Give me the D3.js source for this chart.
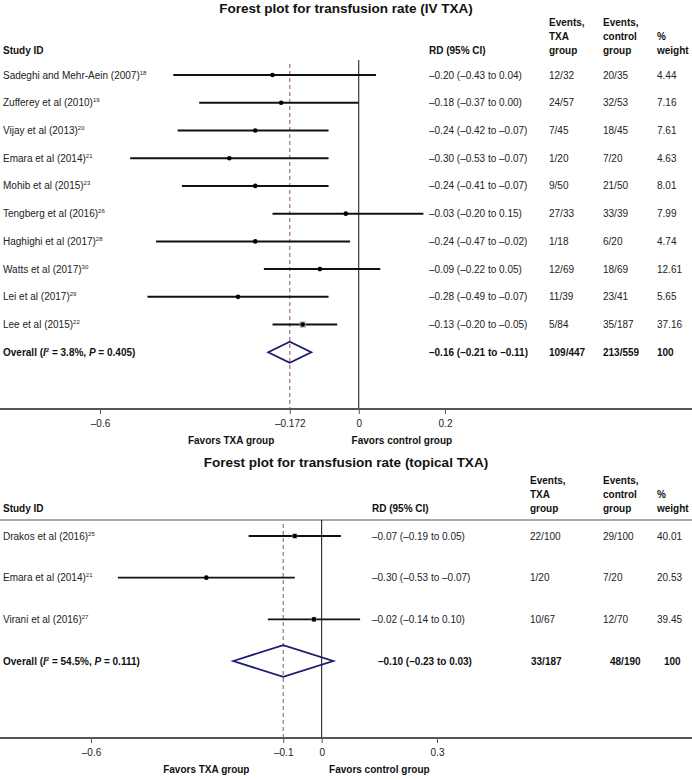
<!DOCTYPE html>
<html>
<head>
<meta charset="utf-8">
<script src="https://cdn.jsdelivr.net/npm/d3@7"></script>
<style>
  body { margin: 0; background: #fff; }
  svg { display: block; font-family: "Liberation Sans", Arial, sans-serif; }
  .hdr { font-size: 10px; font-weight: bold; fill: #111; }
  .row { font-size: 10px; fill: #222; }
  .ovr { font-size: 10px; font-weight: bold; fill: #111; }
  .title { font-size: 13.5px; font-weight: bold; fill: #111; }
</style>
</head>
<body>
<div id="chart"></div>
<script>
// ---- IV TXA panel data ----
var ivStudies = ["Sadeghi and Mehr-Aein (2007)", "Zufferey et al (2010)", "Vijay et al (2013)", "Emara et al (2014)",
  "Mohib et al (2015)", "Tengberg et al (2016)", "Haghighi et al (2017)", "Watts et al (2017)", "Lei et al (2017)", "Lee et al (2015)"];
var ivRefs = ["18", "19", "20", "21", "23", "26", "28", "30", "29", "22"];
var ivRD = [-0.20, -0.18, -0.24, -0.30, -0.24, -0.03, -0.24, -0.09, -0.28, -0.13];
var ivLow = [-0.43, -0.37, -0.42, -0.53, -0.41, -0.20, -0.47, -0.22, -0.49, -0.20];
var ivHigh = [0.04, 0.00, -0.07, -0.07, -0.07, 0.15, -0.02, 0.05, -0.07, -0.05];
var ivTXA = ["12/32", "24/57", "7/45", "1/20", "9/50", "27/33", "1/18", "12/69", "11/39", "5/84"];
var ivCtrl = ["20/35", "32/53", "18/45", "7/20", "21/50", "33/39", "6/20", "18/69", "23/41", "35/187"];
var ivWeight = [4.44, 7.16, 7.61, 4.63, 8.01, 7.99, 4.74, 12.61, 5.65, 37.16];
var ivOverall = [-0.16, -0.21, -0.11];
var ivOverallEvents = ["109/447", "213/559", "100"];
var ivHet = ["3.8%", "0.405"];
var ivTicks = [-0.6, -0.16, 0, 0.2];
var ivTickLabels = ["–0.6", "–0.172", "0", "0.2"];

// ---- topical TXA panel data ----
var topStudies = ["Drakos et al (2016)", "Emara et al (2014)", "Virani et al (2016)"];
var topRefs = ["25", "21", "27"];
var topRD = [-0.07, -0.30, -0.02];
var topLow = [-0.19, -0.53, -0.14];
var topHigh = [0.05, -0.07, 0.10];
var topTXA = ["22/100", "1/20", "10/67"];
var topCtrl = ["29/100", "7/20", "12/70"];
var topWeight = [40.01, 20.53, 39.45];
var topOverall = [-0.10, -0.23, 0.03];
var topOverallEvents = ["33/187", "48/190", "100"];
var topHet = ["54.5%", "0.111"];
var topTicks = [-0.6, -0.1, 0, 0.3];
var topTickLabels = ["–0.6", "–0.1", "0", "0.3"];

var W = 692, H = 779;
var svg = d3.select("#chart").append("svg").attr("width", W).attr("height", H);

function fmt(v) { return (v < 0 ? "–" : "") + Math.abs(v).toFixed(2); }
function ciText(rd, lo, hi) { return fmt(rd) + " (" + fmt(lo) + " to " + fmt(hi) + ")"; }

function panel(p) {
  var g = svg.append("g");
  var n = p.studies.length;

  var x = d3.scaleLinear().domain(p.xDomain).range(p.xRange);
  var y = d3.scaleLinear().domain([0, n]).range(p.yRange);
  var step = y(1) - y(0);
  var sq = d3.scaleSqrt().domain([0, 100]).range([0, p.sqMax]);

  // title
  g.append("text").attr("class", "title").attr("x", W / 2).attr("y", p.titleY)
    .attr("text-anchor", "middle").text(p.title);

  // header
  var hx = p.cols;
  var hy = p.headerY;
  g.append("text").attr("class", "hdr").attr("x", 3).attr("y", hy + 28).text("Study ID");
  g.append("text").attr("class", "hdr").attr("x", hx[0]).attr("y", hy + 28).text("RD (95% CI)");
  [["Events,", "TXA", "group"], ["Events,", "control", "group"], ["", "%", "weight"]].forEach(function(lines, j) {
    lines.forEach(function(s, k) {
      g.append("text").attr("class", "hdr").attr("x", hx[j + 1]).attr("y", hy + k * 14).text(s);
    });
  });

  if (p.sepY) {
    g.append("line").attr("x1", 0).attr("x2", W).attr("y1", p.sepY).attr("y2", p.sepY)
      .attr("stroke", "#555").attr("stroke-width", 1.2);
  }

  // reference lines
  g.append("line").attr("x1", x(0)).attr("x2", x(0)).attr("y1", p.vTop).attr("y2", p.axisY)
    .attr("stroke", "#111").attr("stroke-width", 1);
  g.append("line").attr("x1", x(p.overall[0])).attr("x2", x(p.overall[0])).attr("y1", p.vTop + 4).attr("y2", p.axisY)
    .attr("stroke", "#a0727a").attr("stroke-width", 1.2).attr("stroke-dasharray", "4,3");

  // studies
  var rows = g.selectAll(".study").data(d3.range(n)).enter().append("g").attr("class", "study");
  rows.append("text").attr("class", "row").attr("x", 3).attr("y", function(i) { return y(i) + 3.5; })
    .each(function(i) {
      var t = d3.select(this);
      t.append("tspan").text(p.studies[i]);
      t.append("tspan").attr("dy", -4).attr("font-size", "6px").text(p.refs[i]);
    });
  rows.append("line")
    .attr("x1", function(i) { return x(p.low[i]); })
    .attr("x2", function(i) { return x(p.high[i]); })
    .attr("y1", function(i) { return y(i); }).attr("y2", function(i) { return y(i); })
    .attr("stroke", "#111").attr("stroke-width", p.ciWidth);
  rows.append("rect")
    .attr("x", function(i) { return x(p.rd[i]) - sq(p.weight[i]) / 2; })
    .attr("y", function(i) { return y(i) - sq(p.weight[i]) / 2; })
    .attr("width", function(i) { return sq(p.weight[i]); })
    .attr("height", function(i) { return sq(p.weight[i]); })
    .attr("fill", "#a8a8a8");
  rows.append("circle").attr("cx", function(i) { return x(p.rd[i]); }).attr("cy", function(i) { return y(i); })
    .attr("r", 2.3).attr("fill", "#000");
  rows.append("text").attr("class", "row").attr("x", hx[0]).attr("y", function(i) { return y(i) + 3.5; })
    .text(function(i) { return ciText(p.rd[i], p.low[i], p.high[i]); });
  rows.append("text").attr("class", "row").attr("x", hx[1]).attr("y", function(i) { return y(i) + 3.5; })
    .text(function(i) { return p.txa[i]; });
  rows.append("text").attr("class", "row").attr("x", hx[2]).attr("y", function(i) { return y(i) + 3.5; })
    .text(function(i) { return p.ctrl[i]; });
  rows.append("text").attr("class", "row").attr("x", hx[3]).attr("y", function(i) { return y(i) + 3.5; })
    .text(function(i) { return p.weight[i].toFixed(2); });

  // overall
  var oy = y(n);
  var ot = g.append("text").attr("class", "ovr").attr("x", 3).attr("y", oy + 3.5);
  ot.append("tspan").text("Overall (");
  ot.append("tspan").attr("font-style", "italic").text("I");
  ot.append("tspan").attr("dy", -4).attr("font-size", "6px").text("2");
  ot.append("tspan").attr("dy", 4).text(" = " + p.het[0] + ", ");
  ot.append("tspan").attr("font-style", "italic").text("P");
  ot.append("tspan").text(" = " + p.het[1] + ")");

  var dh = step * 0.38;
  var o = p.overall;
  g.append("path")
    .attr("d", "M" + x(o[1]) + "," + oy + "L" + x(o[0]) + "," + (oy - dh) + "L" + x(o[2]) + "," + oy +
      "L" + x(o[0]) + "," + (oy + dh) + "Z")
    .attr("fill", "none").attr("stroke", "#1b1b6e").attr("stroke-width", 1.8);

  var oc = p.overallCols;
  g.append("text").attr("class", "ovr").attr("x", oc[0]).attr("y", oy + 3.5).text(ciText(o[0], o[1], o[2]));
  p.overallEvents.forEach(function(s, j) {
    g.append("text").attr("class", "ovr").attr("x", oc[j + 1]).attr("y", oy + 3.5).text(s);
  });

  // axis
  g.append("line").attr("x1", 0).attr("x2", W).attr("y1", p.axisY).attr("y2", p.axisY)
    .attr("stroke", "#555").attr("stroke-width", 2);
  var axis = d3.axisBottom(x).tickValues(p.ticks).tickSize(5).tickPadding(6)
    .tickFormat(function(d, i) { return p.tickLabels[i]; });
  var ag = g.append("g").attr("transform", "translate(0," + p.axisY + ")").call(axis);
  ag.select(".domain").remove();
  ag.selectAll(".tick line").attr("stroke", "#555");
  ag.selectAll(".tick text").attr("font-size", "10px").attr("fill", "#222")
    .attr("font-family", "Liberation Sans, Arial, sans-serif");

  g.append("text").attr("class", "hdr").attr("x", x(p.favorX[0])).attr("y", p.axisY + p.favorDy)
    .attr("text-anchor", "middle").text("Favors TXA group");
  g.append("text").attr("class", "hdr").attr("x", x(p.favorX[1])).attr("y", p.axisY + p.favorDy)
    .attr("text-anchor", "middle").text("Favors control group");
}

panel({
  title: "Forest plot for transfusion rate (IV TXA)", titleY: 13,
  studies: ivStudies, refs: ivRefs, rd: ivRD, low: ivLow, high: ivHigh,
  txa: ivTXA, ctrl: ivCtrl, weight: ivWeight,
  overall: ivOverall, overallEvents: ivOverallEvents, het: ivHet,
  ticks: ivTicks, tickLabels: ivTickLabels,
  xDomain: [-0.6, 0.2], xRange: [100, 445],
  yRange: [75, 352.3], headerY: 26, sepY: null, vTop: 60, axisY: 409,
  cols: [429, 549, 603, 657], overallCols: [429, 549, 603, 657],
  sqMax: 10, ciWidth: 2, favorX: [-0.296, 0.10], favorDy: 35
});

panel({
  title: "Forest plot for transfusion rate (topical TXA)", titleY: 467,
  studies: topStudies, refs: topRefs, rd: topRD, low: topLow, high: topHigh,
  txa: topTXA, ctrl: topCtrl, weight: topWeight,
  overall: topOverall, overallEvents: topOverallEvents, het: topHet,
  ticks: topTicks, tickLabels: topTickLabels,
  xDomain: [-0.6, 0.3], xRange: [91, 437],
  yRange: [536, 661], headerY: 484, sepY: 520, vTop: 520, axisY: 738,
  cols: [372, 530, 603, 657], overallCols: [378, 531, 610, 664],
  sqMax: 8, ciWidth: 1.8, favorX: [-0.30, 0.15], favorDy: 35
});
</script>
</body>
</html>
